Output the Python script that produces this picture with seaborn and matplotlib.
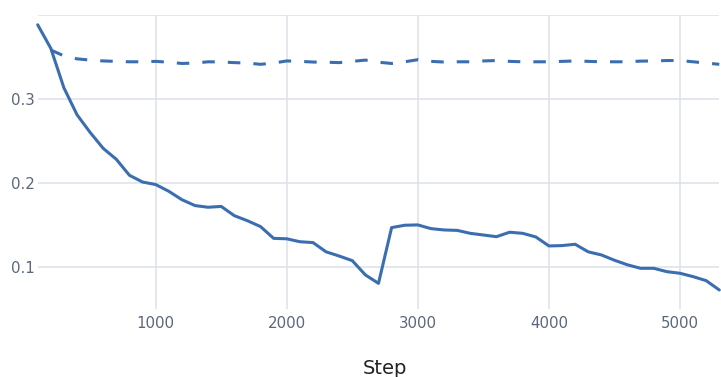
import matplotlib
matplotlib.use("Agg")
import matplotlib.pyplot as plt
import numpy as np
import pandas as pd
import seaborn as sns

# Training loss logged every 100 steps
train_steps = list(range(100, 5400, 100))
train_loss = [
    0.388, 0.360, 0.313, 0.281, 0.260, 0.241, 0.228, 0.209, 0.201, 0.198,
    0.190, 0.180, 0.173, 0.171, 0.172, 0.161, 0.155, 0.148, 0.134, 0.1335,
    0.130, 0.129, 0.118, 0.113, 0.1075, 0.0905, 0.0805, 0.1468, 0.1496, 0.150,
    0.1456, 0.144, 0.1435, 0.140, 0.138, 0.136, 0.1413, 0.140, 0.1357, 0.125,
    0.1254, 0.127, 0.118, 0.1143, 0.108, 0.1025, 0.0984, 0.0984, 0.0944, 0.0925,
    0.0885, 0.0837, 0.0726,
]

# Validation loss, starting at step 200
val_steps = list(range(200, 5400, 100))
val_loss = [
    0.358, 0.351, 0.3475, 0.346, 0.345, 0.3445, 0.344, 0.344, 0.3445, 0.3435,
    0.342, 0.3425, 0.344, 0.3438, 0.343, 0.3425, 0.341, 0.3425, 0.345, 0.3445,
    0.3437, 0.3435, 0.343, 0.3445, 0.346, 0.3435, 0.342, 0.344, 0.3465, 0.3445,
    0.3437, 0.344, 0.344, 0.345, 0.3455, 0.3445, 0.344, 0.344, 0.344, 0.3445,
    0.345, 0.3445, 0.344, 0.344, 0.344, 0.3448, 0.345, 0.3455, 0.3455, 0.344,
    0.3425, 0.341,
]

x_ticks = [1000, 2000, 3000, 4000, 5000]
y_ticks = [0.1, 0.2, 0.3, 0.4]
y_tick_labels = ["0.1", "0.2", "0.3", ""]

sns.set_theme(style="white")
plt.rcParams["font.family"] = ["DejaVu Sans"]
plt.rcParams["lines.scale_dashes"] = False

LINE = "#3b6eb0"
GRID = "#dde2ea"
TICK = "#5b687b"

train_df = pd.DataFrame({"Step": train_steps, "loss": train_loss})
val_df = pd.DataFrame({"Step": val_steps, "loss": val_loss})

fig = plt.figure(figsize=(7.21, 3.77), dpi=100)
W, H = 721, 377
left, right, top, bottom = 37.7, 719.3, 14.7, 309.0
ax = fig.add_axes([left / W, (H - bottom) / H, (right - left) / W, (bottom - top) / H])

sns.lineplot(data=train_df, x="Step", y="loss", ax=ax, color=LINE,
             linewidth=2.2, estimator=None, sort=False)
sns.lineplot(data=val_df, x="Step", y="loss", ax=ax, color=LINE,
             linewidth=2.2, estimator=None, sort=False)
ax.lines[1].set_dashes((9.0, 9.4))
for ln in ax.lines:
    ln.set_solid_joinstyle("round")
    ln.set_dash_capstyle("butt")
    ln.set_clip_on(False)

ax.set_xlim(100, 5300)
ax.set_ylim(0.05, 0.4)
ax.set_xticks(x_ticks)
ax.set_xticklabels([str(t) for t in x_ticks])
ax.set_yticks(y_ticks)
ax.set_yticklabels(y_tick_labels)

ax.grid(True, color=GRID, linewidth=1.1)
ax.set_axisbelow(True)
for sp in ax.spines.values():
    sp.set_visible(False)
ax.tick_params(axis="both", length=0, labelsize=10.8, labelcolor=TICK)
ax.tick_params(axis="x", pad=5)
ax.tick_params(axis="y", pad=2)
ax.set_xlabel("")
ax.set_ylabel("")

fig.text(384.7 / W, (H - 374.4) / H, "Step", ha="center", va="baseline",
         fontsize=14, color="#222222")

fig.savefig("out.png", dpi=100)
